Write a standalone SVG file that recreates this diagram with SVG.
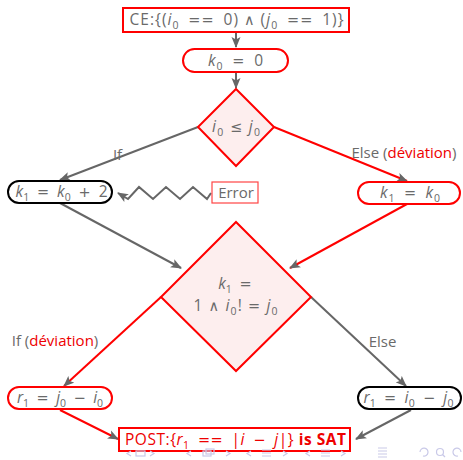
<svg xmlns="http://www.w3.org/2000/svg" width="463" height="460" viewBox="0 0 463 460">
  <style>
    .t { font-family: "Open Sans", "Lato", "Liberation Sans", sans-serif; font-size: 15px; fill: #6a6a6a; text-anchor: middle; }
    .x { font-size: 15.5px; }
    .m { font-style: italic; }
    .s { font-size: 10.5px; }
    .op { font-family: "DejaVu Sans", sans-serif; font-size: 14.5px; }
    .red { fill: #ee0000; }
    .box { fill: #fff; stroke: #ff0000; stroke-width: 2; }
    .bbox { fill: #fff; stroke: #000; stroke-width: 2; }
    .dia { fill: #fdeeee; stroke: #ff0000; stroke-width: 2; }
    .g { fill: none; stroke: #666; stroke-width: 2; }
    .r { fill: none; stroke: #ff0000; stroke-width: 2; }
    .nav { fill: none; stroke: #c9c9e8; stroke-width: 1.2; }
  </style>
  <defs>
    <marker id="arr" markerUnits="userSpaceOnUse" markerWidth="12" markerHeight="10" refX="10" refY="5" orient="auto">
      <path d="M0,0.5 L11,5 L0,9.5 L2.5,5 z" fill="#666"/>
    </marker>
  </defs>

  <!-- connectors -->
  <g id="connectors">
    <path class="g" d="M236,31 L236,47" marker-end="url(#arr)"/>
    <path class="g" d="M236,72 L236,88" marker-end="url(#arr)"/>
    <path class="g" d="M198,127 L60,180" marker-end="url(#arr)"/>
    <path class="r" d="M274,127 L407,181" marker-end="url(#arr)"/>
    <path class="g" stroke-linejoin="miter" d="M211,193 L207,199 L193,187 L180,199 L166,187 L153,199 L139,187 L128,199 L118,193" marker-end="url(#arr)"/>
    <path class="g" d="M60,203 L181,268" marker-end="url(#arr)"/>
    <path class="r" d="M407,204 L290,268" marker-end="url(#arr)"/>
    <path class="r" d="M161,297 L64,386" marker-end="url(#arr)"/>
    <path class="g" d="M311,297 L406,386" marker-end="url(#arr)"/>
    <path class="r" d="M60,410 L118,439" marker-end="url(#arr)"/>
    <path class="g" d="M411,410 L356,439" marker-end="url(#arr)"/>
    <text class="t" x="117.5" y="160">If</text>
    <text class="t" x="404" y="158">Else (<tspan class="red">déviation</tspan>)</text>
    <text class="t" x="55" y="346">If (<tspan class="red">déviation</tspan>)</text>
    <text class="t" x="382.5" y="347">Else</text>
  </g>

  <g id="ce">
    <rect class="box" x="123" y="8" width="226" height="24"/>
    <text class="t x" x="236.5" y="25" textLength="214">CE:{(<tspan class="m">i</tspan><tspan class="s" dy="3.5">0</tspan><tspan dy="-3.5">&#x2002;</tspan><tspan class="op">==</tspan>&#x2002;0)&#x2005;<tspan class="op">∧</tspan>&#x2005;(<tspan class="m">j</tspan><tspan class="s" dy="3.5">0</tspan><tspan dy="-3.5">&#x2002;</tspan><tspan class="op">==</tspan>&#x2002;1)}</text>
  </g>

  <g id="k0">
    <rect class="box" x="183" y="49" width="105" height="23" rx="11.5"/>
    <text class="t x" x="235.5" y="66" textLength="55"><tspan class="m">k</tspan><tspan class="s" dy="3.5">0</tspan><tspan dy="-3.5">&#x2002;</tspan><tspan class="op">=</tspan>&#x2002;0</text>
  </g>

  <g id="cond1">
    <path class="dia" d="M236,89 L274,127 L236,166 L198,127 z"/>
    <text class="t x" x="236" y="132" textLength="48"><tspan class="m">i</tspan><tspan class="s" dy="3.5">0</tspan><tspan dy="-3.5">&#x2005;</tspan><tspan class="op">≤</tspan>&#x2005;<tspan class="m">j</tspan><tspan class="s" dy="3.5">0</tspan></text>
  </g>

  <g id="k1plus">
    <rect class="bbox" x="8" y="181" width="104" height="22" rx="11"/>
    <text class="t x" x="61.5" y="197" textLength="92"><tspan class="m">k</tspan><tspan class="s" dy="3.5">1</tspan><tspan dy="-3.5">&#x2002;</tspan><tspan class="op">=</tspan>&#x2002;<tspan class="m">k</tspan><tspan class="s" dy="3.5">0</tspan><tspan dy="-3.5">&#x2002;</tspan><tspan class="op">+</tspan>&#x2002;2</text>
  </g>

  <g id="error">
    <rect x="212" y="182" width="46" height="21" fill="#fff" stroke="#ff4444" stroke-width="1.2"/>
    <text class="t" x="236" y="198">Error</text>
  </g>

  <g id="k1eq">
    <rect class="box" x="358" y="182" width="102" height="22" rx="11"/>
    <text class="t x" x="410" y="198" textLength="60"><tspan class="m">k</tspan><tspan class="s" dy="3.5">1</tspan><tspan dy="-3.5">&#x2002;</tspan><tspan class="op">=</tspan>&#x2002;<tspan class="m">k</tspan><tspan class="s" dy="3.5">0</tspan></text>
  </g>

  <g id="cond2">
    <path class="dia" d="M236,222 L311,297 L236,371 L161,297 z"/>
    <text class="t x" x="235" y="289"><tspan class="m">k</tspan><tspan class="s" dy="3.5">1</tspan><tspan dy="-3.5">&#x2002;</tspan><tspan class="op">=</tspan></text>
    <text class="t x" x="235.5" y="311" textLength="84">1&#x2005;<tspan class="op">∧</tspan>&#x2005;<tspan class="m">i</tspan><tspan class="s" dy="3.5">0</tspan><tspan dy="-3.5">!&#x2005;</tspan><tspan class="op">=</tspan>&#x2005;<tspan class="m">j</tspan><tspan class="s" dy="3.5">0</tspan></text>
  </g>

  <g id="r1left">
    <rect class="box" x="8" y="387" width="104" height="22" rx="11"/>
    <text class="t x" x="60" y="403" textLength="86"><tspan class="m">r</tspan><tspan class="s" dy="3.5">1</tspan><tspan dy="-3.5">&#x2002;</tspan><tspan class="op">=</tspan>&#x2002;<tspan class="m">j</tspan><tspan class="s" dy="3.5">0</tspan><tspan dy="-3.5">&#x2002;</tspan><tspan class="op">−</tspan>&#x2002;<tspan class="m">i</tspan><tspan class="s" dy="3.5">0</tspan></text>
  </g>

  <g id="r1right">
    <rect class="bbox" x="358" y="387" width="103" height="22" rx="11"/>
    <text class="t x" x="408.5" y="403" textLength="90"><tspan class="m">r</tspan><tspan class="s" dy="3.5">1</tspan><tspan dy="-3.5">&#x2002;</tspan><tspan class="op">=</tspan>&#x2002;<tspan class="m">i</tspan><tspan class="s" dy="3.5">0</tspan><tspan dy="-3.5">&#x2002;</tspan><tspan class="op">−</tspan>&#x2002;<tspan class="m">j</tspan><tspan class="s" dy="3.5">0</tspan></text>
  </g>

  <g id="post">
    <rect class="box" x="119" y="428" width="231" height="23"/>
    <text class="t x red" x="235.5" y="445" textLength="221">POST:{<tspan class="m">r</tspan><tspan class="s" dy="3.5">1</tspan><tspan dy="-3.5">&#x2002;</tspan><tspan class="op">==</tspan>&#x2002;|<tspan class="m">i</tspan>&#x2002;<tspan class="op">−</tspan>&#x2002;<tspan class="m">j</tspan>|} <tspan font-weight="bold">is SAT</tspan></text>
  </g>

  <!-- navigation bar icons -->
  <g id="navbar">
    <path class="nav" d="M131,451 L127,453.5 L131,456 M150,451 L154,453.5 L150,456"/>
    <rect class="nav" x="136" y="451" width="9" height="5"/>
    <path class="nav" d="M191,451 L187,453.5 L191,456 M226,451 L230,453.5 L226,456"/>
    <rect class="nav" x="203" y="451" width="8" height="5"/>
    <rect class="nav" x="206" y="449" width="8" height="5"/>
    <path class="nav" d="M251,451 L247,453.5 L251,456 M283,451 L287,453.5 L283,456"/>
    <path class="nav" d="M262,450 H271 M262,453 H271 M262,456 H271"/>
    <path class="nav" d="M310,451 L306,453.5 L310,456 M341,451 L345,453.5 L341,456"/>
    <path class="nav" d="M321,450 H330 M321,453 H330 M321,456 H330"/>
    <path class="nav" d="M378,448 H387 M378,451 H387 M378,454 H387 M378,457 H387"/>
    <path class="nav" d="M420,452 A4,4 0 1 1 423,456"/>
    <circle class="nav" cx="440" cy="452" r="3.5"/>
    <path class="nav" d="M442.5,454.5 L445,457"/>
    <path class="nav" d="M461,452 A4,4 0 1 0 458,456"/>
  </g>
</svg>
